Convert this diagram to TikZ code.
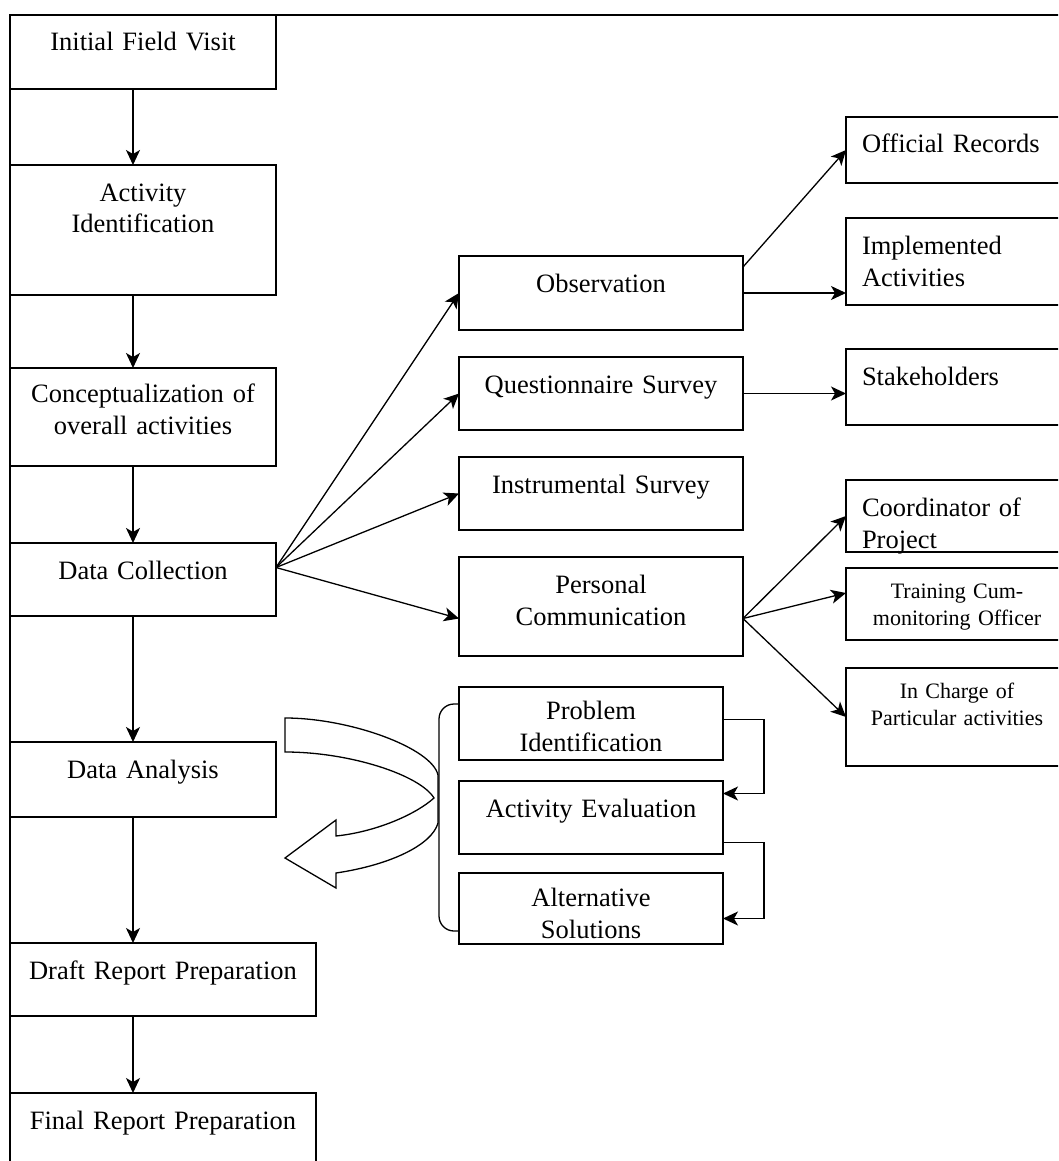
\documentclass[tikz,border=0pt]{standalone}
\usepackage{fontspec}
\setmainfont{Liberation Serif}
\usepackage{tikz}
\usetikzlibrary{arrows.meta, positioning}
\newcommand{\mainfs}{\fontsize{26.5pt}{32pt}\selectfont}
\newcommand{\smallfs}{\fontsize{22pt}{27pt}\selectfont}
\tikzset{
  stage/.style 2 args={rectangle, draw, line width=1.6pt, inner sep=0pt, outer sep=0pt,
              text width=#1, text height=36pt, text depth=#2,
              align=center, anchor=north west, font=\mainfs},
  lbox/.style 2 args={rectangle, draw, line width=1.6pt, inner xsep=16pt, inner ysep=0pt,
              outer sep=0pt, text width=#1, text height=36pt, text depth=#2,
              align=left, anchor=north west, font=\mainfs},
  sbox/.style 2 args={stage={#1}{#2}, text height=30pt, font=\smallfs},
  arr/.style={-{Stealth[length=15pt, width=14pt, inset=4pt]}, line width=1.3pt},
  frameline/.style={line width=2.6pt},
  thinline/.style={line width=1.3pt},
}

\begin{document}
\begin{tikzpicture}[x=1pt, y=-1pt]
      \useasboundingbox (0,0) rectangle (1058,1161);
      \clip (0,0) rectangle (1058,1161);
      \fill[white] (0,0) rectangle (1058,1161);

      \node[stage={266pt}{38pt}] (visit) at (10,15)
           {Initial Field Visit};
      \node[below=76pt of visit.south west, stage={266pt}{94pt}] (ident)
           {Activity\\Identification};
      \node[below=73pt of ident.south west, stage={266pt}{64pt}, text height=34pt] (concept)
           {Conceptualization of\\overall activities};
      \node[below=77pt of concept.south west, stage={266pt}{37pt}] (collect)
           {Data Collection};
      \node[below=126pt of collect.south west, stage={266pt}{39pt}] (analysis)
           {Data Analysis};
      \node[below=126pt of analysis.south west, stage={306pt}{37pt}] (draft)
           {Draft Report Preparation};
      \node[below=77pt of draft.south west, stage={306pt}{64pt}] (final)
           {Final Report Preparation};

      \node[stage={284pt}{38pt}] (obs) at (459,256)
           {Observation};
      \node[below=27pt of obs.south west, stage={284pt}{37pt}] (quest)
           {Questionnaire Survey};
      \node[below=27pt of quest.south west, stage={284pt}{37pt}] (instr)
           {Instrumental Survey};
      \node[below=27pt of instr.south west, stage={284pt}{63pt}] (pers)
           {Personal\\Communication};
      \node[below=31pt of pers.south west, stage={264pt}{41pt}, text height=32pt] (prob)
           {Problem\\Identification};
      \node[below=21pt of prob.south west, stage={264pt}{37pt}] (eval)
           {Activity Evaluation};
      \node[below=19pt of eval.south west, stage={264pt}{38pt}, text height=33pt] (alt)
           {Alternative\\Solutions};

      \node[lbox={208pt}{30pt}] (records) at (846,117)
           {Official Records};
      \node[below=35pt of records.south west, lbox={208pt}{51pt}] (impl)
           {Implemented\\Activities};
      \node[below=44pt of impl.south west, lbox={208pt}{40pt}] (stake)
           {Stakeholders};
      \node[below=55pt of stake.south west, lbox={208pt}{36pt}] (coord)
           {Coordinator of\\Project};
      \node[below=16pt of coord.south west, sbox={222pt}{42pt}] (train)
           {Training Cum-\\monitoring Officer};
      \node[below=28pt of train.south west, sbox={222pt}{68pt}] (charge)
           {In Charge of\\Particular activities};

      \draw[frameline] (10,1175) -- (10,15) -- (1070,15);

      \coordinate (spine) at (133,0);
      \draw[arr] (visit.south -| spine)    -- (ident.north -| spine);
      \draw[arr] (ident.south -| spine)    -- (concept.north -| spine);
      \draw[arr] (concept.south -| spine)  -- (collect.north -| spine);
      \draw[arr] (collect.south -| spine)  -- (analysis.north -| spine);
      \draw[arr] (analysis.south -| spine) -- (draft.north -| spine);
      \draw[arr] (draft.south -| spine)    -- (final.north -| spine);

      \draw[arr] ([yshift=12pt]collect.east) -- (obs.west);
      \draw[arr] ([yshift=12pt]collect.east) -- (quest.west);
      \draw[arr] ([yshift=12pt]collect.east) -- (instr.west);
      \draw[arr] ([yshift=12pt]collect.east) -- ([yshift=-12pt]pers.west);

      \draw[arr] ([yshift=26pt]obs.east) -- (records.west);
      \draw[arr] (obs.east) -- (obs.east -| impl.west);
      \draw[arr] (quest.east) -- (quest.east -| stake.west);

      \draw[arr] ([yshift=-12pt]pers.east) -- (coord.west);
      \draw[arr] ([yshift=-12pt]pers.east) -- ([yshift=11pt]train.west);
      \draw[arr] ([yshift=-12pt]pers.east) -- (charge.west);

      \draw[arr] ([yshift=4pt]prob.east) -- ++(41,0) |- ([yshift=24pt]eval.east);
      \draw[arr] ([yshift=-25pt]eval.east) -- ++(41,0) |- ([yshift=-10pt]alt.east);

      \draw[thinline, rounded corners=15pt] ([yshift=-17pt]prob.north west)
           -- ++(-20,0) |- ([yshift=13pt]alt.south west);

      \draw[thinline] (285,718) .. controls (350,718) and (432,748) .. (438,775)
           -- (438,823) .. controls (432,845) and (390,865) .. (336,873)
           -- (336,888) -- (285,858) -- (336,820) -- (336,836)
           .. controls (375,832) and (415,815) .. (434,798)
           .. controls (420,775) and (350,752) .. (285,752) -- cycle;
    \end{tikzpicture}
\end{document}
